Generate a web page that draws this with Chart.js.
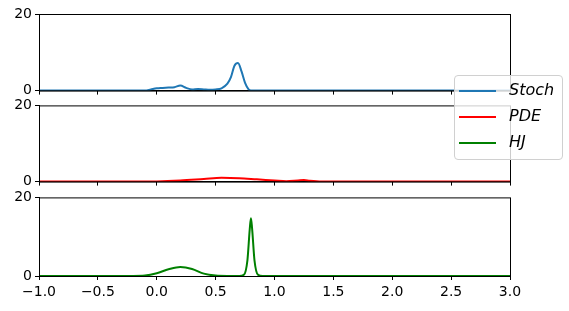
<!DOCTYPE html>
<html>
<head>
<meta charset="utf-8">
<script src="https://cdn.jsdelivr.net/npm/chart.js@4"></script>
<style>
  body { margin: 0; background: #fff; width: 569px; height: 311px; overflow: hidden; position: relative; font-family: "DejaVu Sans", sans-serif; }
  .panel { position: absolute; left: 0; width: 569px; }
  #legend {
    position: absolute; left: 454px; top: 75px; width: 107px; height: 83px;
    background: rgba(255,255,255,0.8); border: 1px solid #d0d0d0; border-radius: 4px;
    z-index: 5;
  }
  .entry { position: absolute; left: 0; height: 20px; }
  .entry .swatch { position: absolute; left: 4px; width: 37px; height: 2px; }
  .entry span { position: absolute; left: 54px; top: -10px; font-style: italic; font-size: 16px; color: #000; white-space: nowrap; }
</style>
</head>
<body>
<canvas id="p1" class="panel" style="top:0px;height:102px" width="569" height="102"></canvas>
<canvas id="p2" class="panel" style="top:94px;height:99px" width="569" height="99"></canvas>
<canvas id="p3" class="panel" style="top:186px;height:125px" width="569" height="125"></canvas>
<div id="legend"></div>
<script>
// series labels and colours
const seriesNames = ["Stoch", "PDE", "HJ"];
const seriesColors = ["#1f77b4", "#ff0000", "#008000"];

// Stoch
const stochX = [-1, -0.1, -0.05, 0, 0.05, 0.1, 0.15, 0.2, 0.25, 0.3, 0.35, 0.4, 0.45, 0.5, 0.55, 0.6, 0.63, 0.66, 0.69, 0.72, 0.75, 0.78, 0.8, 3];
const stochY = [0, 0, 0.3, 0.6, 0.7, 0.8, 0.9, 1.3, 0.7, 0.3, 0.4, 0.3, 0.2, 0.3, 0.6, 1.8, 3.5, 6.5, 7.2, 5, 2, 0.3, 0, 0];

// PDE
const pdeX = [-1, -0.2, 0, 0.2, 0.4, 0.55, 0.7, 0.85, 1.0, 1.1, 1.2, 1.25, 1.3, 1.4, 3];
const pdeY = [0, 0, 0.05, 0.3, 0.7, 1.0, 0.9, 0.6, 0.3, 0.1, 0.3, 0.4, 0.2, 0, 0];

// HJ
const hjX = [-1, -0.2, -0.1, 0, 0.1, 0.2, 0.3, 0.4, 0.5, 0.6, 0.7, 0.74, 0.77, 0.79, 0.8, 0.81, 0.83, 0.86, 0.9, 3];
const hjY = [0, 0, 0.1, 0.7, 1.7, 2.3, 1.8, 0.6, 0.1, 0, 0, 0.3, 4, 12, 14.7, 12, 4, 0.3, 0, 0];

// axes
const xTicks = [-1.0, -0.5, 0.0, 0.5, 1.0, 1.5, 2.0, 2.5, 3.0];
const yTicks = [0, 20];

const frame = {
  id: "frame",
  afterDraw(chart) {
    const a = chart.chartArea, ctx = chart.ctx;
    ctx.save();
    ctx.strokeStyle = "#000";
    ctx.lineWidth = 1;
    ctx.strokeRect(a.left + 0.5, a.top + 0.5, a.right - a.left, a.bottom - a.top);
    ctx.restore();
  }
};

function makePanel(id, xs, ys, color, padTop, xHeight, showLabels) {
  const ctx = document.getElementById(id).getContext("2d");
  return new Chart(ctx, {
    type: "line",
    data: {
      datasets: [{
        data: xs.map((x, i) => ({ x: x, y: ys[i] })),
        borderColor: color,
        borderWidth: 2,
        pointRadius: 0,
        cubicInterpolationMode: "monotone",
        fill: false
      }]
    },
    options: {
      responsive: false,
      animation: false,
      layout: { padding: { top: padTop, right: 59, left: 0, bottom: 0 } },
      plugins: { legend: { display: false }, tooltip: { enabled: false } },
      scales: {
        x: {
          type: "linear",
          min: -1, max: 3,
          afterBuildTicks: s => { s.ticks = xTicks.map(v => ({ value: v })); },
          afterFit: s => { s.height = xHeight; },
          grid: { drawOnChartArea: false, drawTicks: true, tickLength: 4, color: "#000" },
          border: { display: true, color: "#000" },
          ticks: {
            display: showLabels,
            padding: 4,
            color: "#000",
            font: { family: "DejaVu Sans", size: 14 },
            maxRotation: 0,
            callback: v => v.toFixed(1).replace("-", "\u2212")
          }
        },
        y: {
          min: 0, max: 20,
          afterBuildTicks: s => { s.ticks = yTicks.map(v => ({ value: v })); },
          afterFit: s => { s.width = 39; },
          grid: { drawOnChartArea: false, drawTicks: true, tickLength: 4, color: "#000" },
          border: { display: true, color: "#000" },
          ticks: {
            padding: 3,
            color: "#000",
            font: { family: "DejaVu Sans", size: 14 }
          }
        }
      }
    },
    plugins: [frame]
  });
}

makePanel("p1", stochX, stochY, seriesColors[0], 14, 10, false);
makePanel("p2", pdeX, pdeY, seriesColors[1], 10, 10, false);
makePanel("p3", hjX, hjY, seriesColors[2], 10, 35, true);

// legend
const legend = document.getElementById("legend");
const rows = [14, 40, 66];
seriesNames.forEach((name, i) => {
  const e = document.createElement("div");
  e.className = "entry";
  e.style.top = rows[i] + "px";
  e.innerHTML = '<div class="swatch" style="background:' + seriesColors[i] + '"></div><span>' + name + '</span>';
  legend.appendChild(e);
});
</script>
</body>
</html>
